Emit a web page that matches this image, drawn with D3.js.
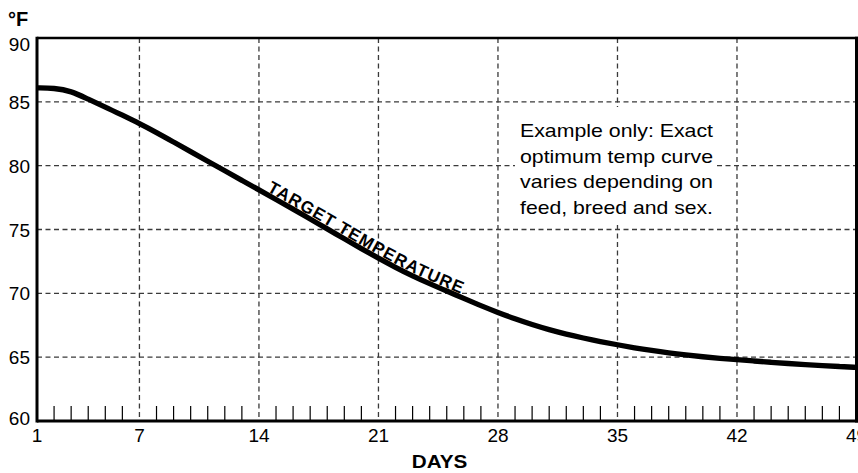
<!DOCTYPE html>
<html>
<head>
<meta charset="utf-8">
<script src="https://cdn.jsdelivr.net/npm/d3@7"></script>
<style>
  html, body { margin: 0; padding: 0; background: #fff; }
  svg { display: block; font-family: "Liberation Sans", Arial, Helvetica, sans-serif; }
</style>
</head>
<body>
<svg id="chart" width="858" height="473"></svg>
<script>
// ---- data ----
const days = [1,2,3,4,5,6,7,8,9,10,11,12,13,14,15,16,17,18,19,20,21,22,23,24,25,
              26,27,28,29,30,31,32,33,34,35,36,37,38,39,40,41,42,43,44,45,46,47,48,49];
const temps = [86.1,86.08,85.85,85.2,84.6,83.95,83.3,82.6,81.85,81.1,80.35,79.6,78.85,78.1,
               77.35,76.6,75.82,75.05,74.27,73.5,72.75,72.03,71.36,70.75,70.18,69.6,69.03,68.5,
               68.0,67.55,67.15,66.8,66.5,66.22,65.97,65.73,65.52,65.33,65.17,65.03,64.91,64.8,
               64.7,64.6,64.5,64.42,64.34,64.27,64.2];
const xTickLabels = [1,7,14,21,28,35,42,49];
const yTickLabels = [60,65,70,75,80,85,90];
const unitLabel = "°F";
const xAxisTitle = "DAYS";
const curveLabel = "TARGET TEMPERATURE";
const noteLines = ["Example only: Exact", "optimum temp curve", "varies depending on", "feed, breed and sex."];

// ---- layout ----
const svg = d3.select("#chart");
const x = d3.scaleLinear().domain([1,49]).range([37,856.5]);
const y = d3.scaleLinear().domain([60,90]).range([421,38]);
const data = days.map((d,i)=>({d, t: temps[i]}));

// grid
const gridColor = "#3a3a3a";
svg.append("g").selectAll("line")
  .data(yTickLabels.filter(v=>v>60 && v<90)).join("line")
  .attr("x1", x(1)).attr("x2", 858)
  .attr("y1", d=>y(d)).attr("y2", d=>y(d))
  .attr("stroke", gridColor).attr("stroke-width", 1.3).attr("stroke-dasharray", "5,3.5");
svg.append("g").selectAll("line")
  .data(xTickLabels.filter(v=>v>1 && v<49)).join("line")
  .attr("x1", d=>x(d)).attr("x2", d=>x(d))
  .attr("y1", y(90)).attr("y2", y(60))
  .attr("stroke", gridColor).attr("stroke-width", 1.3).attr("stroke-dasharray", "5,3.5");

// minor day ticks
svg.append("g").selectAll("line")
  .data(days.filter(d=>d>1 && d<49 && !xTickLabels.includes(d))).join("line")
  .attr("x1", d=>x(d)).attr("x2", d=>x(d))
  .attr("y1", y(60)-15).attr("y2", y(60))
  .attr("stroke", "#000").attr("stroke-width", 1.2);

// annotation box
svg.append("rect").attr("x", 515).attr("y", 107).attr("width", 202).attr("height", 118).attr("fill", "#fff");
svg.append("g").selectAll("text").data(noteLines).join("text")
  .attr("x", 520).attr("y", (d,i)=>137 + i*25.5)
  .attr("font-size", 18.5).attr("fill", "#000")
  .attr("textLength", 193).attr("lengthAdjust", "spacingAndGlyphs")
  .text(d=>d);

// curve
const line = d3.line().x(p=>x(p.d)).y(p=>y(p.t)).curve(d3.curveBasis);
const path = svg.append("path").attr("id", "tcurve").datum(data)
  .attr("d", line).attr("fill", "none").attr("stroke", "#000")
  .attr("stroke-width", 5.3).attr("stroke-linecap", "butt");

// label along curve
const node = path.node();
let lo = 0, hi = node.getTotalLength();
for (let k=0;k<40;k++){ const m=(lo+hi)/2; if (node.getPointAtLength(m).x < 265) lo=m; else hi=m; }
svg.append("text").attr("font-size", 17).attr("font-weight", "bold").attr("letter-spacing", 1.1)
  .attr("dy", -3)
  .append("textPath").attr("href", "#tcurve").attr("startOffset", lo)
  .text(curveLabel);

// frame
const frame = svg.append("g").attr("stroke", "#000").attr("fill", "none");
frame.append("line").attr("x1", x(1)).attr("x2", 858).attr("y1", y(90)).attr("y2", y(90)).attr("stroke-width", 2.6);
frame.append("line").attr("x1", x(1)).attr("x2", 858).attr("y1", y(60)).attr("y2", y(60)).attr("stroke-width", 3);
frame.append("line").attr("x1", x(1)).attr("x2", x(1)).attr("y1", y(90)-1.3).attr("y2", y(60)+1.5).attr("stroke-width", 3);
frame.append("line").attr("x1", x(49)).attr("x2", x(49)).attr("y1", y(90)-1.3).attr("y2", y(60)+1.5).attr("stroke-width", 3);

// y labels
svg.append("g").selectAll("text").data(yTickLabels).join("text")
  .attr("x", 30).attr("text-anchor", "end")
  .attr("y", d=> y(d) + (d===90 ? 13 : d===60 ? 4 : 7))
  .attr("font-size", 19).attr("fill", "#000")
  .text(d=>d);

// x labels
svg.append("g").selectAll("text").data(xTickLabels).join("text")
  .attr("x", d=>x(d)).attr("y", 442).attr("text-anchor", "middle")
  .attr("font-size", 19).attr("fill", "#000")
  .text(d=>d);

// titles
svg.append("text").attr("x", 8).attr("y", 26).attr("font-size", 20).attr("font-weight", "bold").text(unitLabel);
svg.append("text").attr("x", 411.7).attr("y", 468).attr("font-size", 19).attr("font-weight", "bold")
  .attr("textLength", 55.6).attr("lengthAdjust", "spacingAndGlyphs").text(xAxisTitle);
</script>
</body>
</html>
